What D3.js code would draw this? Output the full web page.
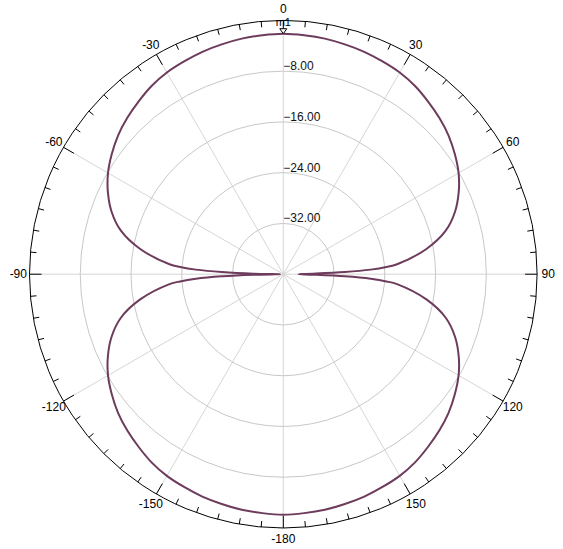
<!DOCTYPE html>
<html>
<head>
<meta charset="utf-8">
<script src="https://cdn.jsdelivr.net/npm/d3@7"></script>
<style>
  body { margin: 0; background: #fff; }
  text { font-family: "Liberation Sans", Arial, sans-serif; }
</style>
</head>
<body>
<script>
// pattern data, angle in degrees (0 = up, clockwise) and level in dB
var angleDeg = [-180,-175,-170,-165,-160,-155,-150,-145,-140,-135,-130,-125,-120,-115,-110,-105,-100,
  -95,-94,-93,-92,-91,-90,-89,-88,-87,-86,-85,
  -80,-75,-70,-65,-60,-55,-50,-45,-40,-35,-30,-25,-20,-15,-10,-5,
  0,5,10,15,20,25,30,35,40,45,50,55,60,65,70,75,80,
  85,86,87,88,89,90,91,92,93,94,95,
  100,105,110,115,120,125,130,135,140,145,150,155,160,165,170,175];
var gainDb = [-2.1,-2.2,-2.3,-2.5,-2.7,-3.0,-3.3,-3.8,-4.5,-5.2,-6.0,-7.0,-8.1,-9.5,-11.2,-13.5,-17.1,
  -22.0,-23.7,-26.2,-30.3,-35.3,-39.5,-35.3,-30.3,-26.2,-23.7,-22.0,
  -17.1,-13.5,-11.2,-9.5,-8.1,-7.0,-6.0,-5.2,-4.5,-3.8,-3.3,-3.0,-2.7,-2.5,-2.3,-2.2,
  -2.1,-2.2,-2.3,-2.5,-2.7,-3.0,-3.3,-3.8,-4.5,-5.2,-6.0,-7.0,-8.1,-9.5,-11.2,-13.5,-17.1,
  -22.0,-23.7,-26.2,-30.3,-35.3,-37.6,-35.3,-30.3,-26.2,-23.7,-22.0,
  -17.1,-13.5,-11.2,-9.5,-8.1,-7.0,-6.0,-5.2,-4.5,-3.8,-3.3,-3.0,-2.7,-2.5,-2.3,-2.2];

var ringDb = [-8, -16, -24, -32];
var spokeDeg = [0, 30, 60, 90, 120, 150, 180, 210, 240, 270, 300, 330];
var spokeLabels = ["0", "30", "60", "90", "120", "150", "-180", "-150", "-120", "-90", "-60", "-30"];
var markerDeg = [0];
var markerNames = ["m1"];

var width = 563, height = 549;
var cx = 283.3, cy = 274.2, R = 253.8;
var rad = Math.PI / 180;

var r = d3.scaleLinear().domain([-40, 0]).range([0, R]).clamp(true);

var svg = d3.select("body").append("svg")
  .attr("width", width)
  .attr("height", height);

var g = svg.append("g").attr("transform", "translate(" + cx + "," + cy + ")");

function px(a, rr) { return Math.sin(a * rad) * rr; }
function py(a, rr) { return -Math.cos(a * rad) * rr; }

// spokes
g.selectAll("line.spoke")
  .data(spokeDeg)
  .enter().append("line")
  .attr("class", "spoke")
  .attr("x1", 0).attr("y1", 0)
  .attr("x2", function(d){ return px(d, R); })
  .attr("y2", function(d){ return py(d, R); })
  .attr("stroke", "#d6d6d6")
  .attr("stroke-width", 1);

// rings
g.selectAll("circle.ring")
  .data(ringDb)
  .enter().append("circle")
  .attr("class", "ring")
  .attr("r", function(d){ return r(d); })
  .attr("fill", "none")
  .attr("stroke", "#c8c8c8")
  .attr("stroke-width", 1);

g.selectAll("text.ringlab")
  .data(ringDb)
  .enter().append("text")
  .attr("class", "ringlab")
  .attr("x", 0)
  .attr("y", function(d){ return -r(d) - 1; })
  .attr("font-size", 12)
  .attr("fill", "#111")
  .text(function(d){ return d3.format(".2f")(d); });

// outer circle + ticks
g.append("circle")
  .attr("r", R)
  .attr("fill", "none")
  .attr("stroke", "#000")
  .attr("stroke-width", 1);

var tickDeg = d3.range(0, 360, 5);
g.selectAll("line.tick")
  .data(tickDeg)
  .enter().append("line")
  .attr("class", "tick")
  .attr("x1", function(d){ return px(d, R); })
  .attr("y1", function(d){ return py(d, R); })
  .attr("x2", function(d){ return px(d, R - (d % 30 === 0 ? 12 : 6)); })
  .attr("y2", function(d){ return py(d, R - (d % 30 === 0 ? 12 : 6)); })
  .attr("stroke", "#000")
  .attr("stroke-width", 1);

g.selectAll("text.anglab")
  .data(spokeDeg)
  .enter().append("text")
  .attr("class", "anglab")
  .attr("x", function(d){ return px(d, 265); })
  .attr("y", function(d){ return py(d, 265); })
  .attr("text-anchor", "middle")
  .attr("dominant-baseline", "central")
  .attr("font-size", 12)
  .attr("fill", "#000")
  .text(function(d, i){ return spokeLabels[i]; });

// pattern
var pts = angleDeg.map(function(a, i){ return {a: a, v: gainDb[i]}; });
var line = d3.lineRadial()
  .angle(function(d){ return d.a * rad; })
  .radius(function(d){ return r(d.v); })
  .curve(d3.curveCatmullRomClosed.alpha(0.5));

g.append("path")
  .datum(pts)
  .attr("d", line)
  .attr("fill", "none")
  .attr("stroke", "#6d3b5c")
  .attr("stroke-width", 2);

// marker
markerDeg.forEach(function(a, i){
  var v = gainDb[angleDeg.indexOf(a)];
  var x = px(a, r(v)), y = py(a, r(v));
  g.append("path")
    .attr("d", "M" + (x - 3.5) + "," + (y - 5) + "L" + (x + 3.5) + "," + (y - 5) + "L" + x + "," + y + "Z")
    .attr("fill", "#fff")
    .attr("stroke", "#000")
    .attr("stroke-width", 1);
  g.append("text")
    .attr("x", x)
    .attr("y", y - 8)
    .attr("text-anchor", "middle")
    .attr("font-size", 11)
    .attr("fill", "#000")
    .text(markerNames[i]);
});
</script>
</body>
</html>
